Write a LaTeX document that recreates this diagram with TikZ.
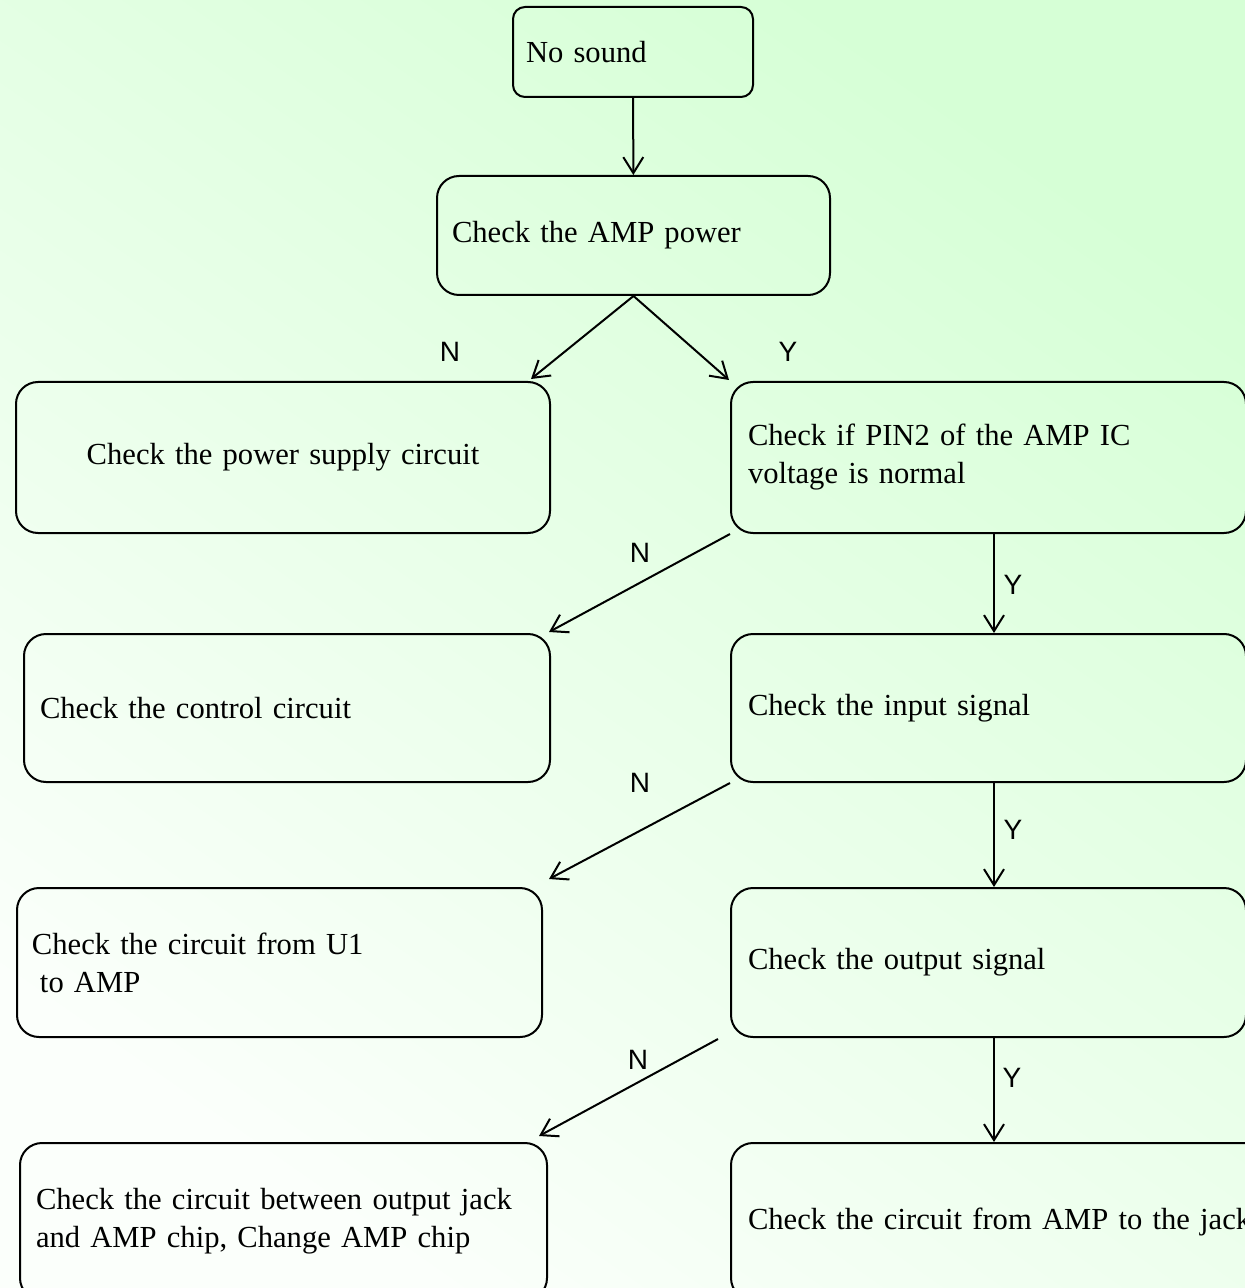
\documentclass[tikz,border=0pt]{standalone}
\usepackage{fontspec}
\setmainfont{Liberation Serif}
\newfontfamily\ynfont{Liberation Sans}
\usetikzlibrary{arrows.meta}
\definecolor{bgtop}{RGB}{214,255,214}
\definecolor{bgmid}{RGB}{243,255,243}
\definecolor{bgbottom}{RGB}{251,255,251}

\begin{document}
\begin{tikzpicture}[x=0.5pt,y=-0.5pt,line width=1pt,>={Straight Barb[length=8pt,width=10pt]},
  box/.style={draw,rounded corners=11pt,align=left,font=\fontsize{15.3}{19}\selectfont},
  answer/.style={inner sep=0pt,font=\ynfont\fontsize{14}{14}\selectfont}]
  \useasboundingbox (0,0) rectangle (1245,1288);
  \clip (0,0) rectangle (1245,1288);
  \shade[top color=bgtop,middle color=bgmid,bottom color=bgbottom,shading angle=-35] (0,0) rectangle (1245,1288);
  \node [box,rounded corners=6pt,inner xsep=6.5pt,text width=107pt,minimum height=45pt] (1) at (633,52) {No sound};
  \node [box,inner xsep=7.5pt,text width=181.5pt,minimum height=59.5pt] (2) at (633.5,235.5) {Check the AMP power};
  \node [box,align=center,inner xsep=7.5pt,text width=252pt,minimum height=75.5pt] (3) at (283,457.5) {Check the power supply circuit};
  \node [box,inner xsep=8.5pt,text width=240.5pt,minimum height=75.5pt] (4) at (988.5,457.5) {Check if PIN2 of the AMP IC\\voltage is normal};
  \node [box,inner xsep=8pt,text width=247pt,minimum height=74pt] (5) at (287,708) {Check the control circuit};
  \node [box,inner xsep=8.5pt,text width=240.5pt,minimum height=74pt] (6) at (988.5,708) {Check the input signal};
  \node [box,inner xsep=7.5pt,text width=247.5pt,minimum height=74.5pt] (7) at (279.5,962.5) {Check the circuit from U1\\\hspace*{4pt}to AMP};
  \node [box,inner xsep=8pt,text width=247.5pt,minimum height=78.5pt] (9) at (283.5,1221.5) {Check the circuit between output jack\\and AMP chip, Change AMP chip};
  \node [box,inner xsep=8.5pt,text width=240.5pt,minimum height=74.5pt] (8) at (988.5,962.5) {Check the output signal};
  \node [box,inner xsep=8.5pt,text width=273pt,minimum height=78.5pt] (10) at (1021,1221.5) {Check the circuit from AMP to the jack};
  \node [answer] (n1) at (450,352) {N};
  \node [answer] (y1) at (788,352) {Y};
  \node [answer] (n2) at (640,553) {N};
  \node [answer] (y2) at (1013,585) {Y};
  \node [answer] (n3) at (640,783) {N};
  \node [answer] (y3) at (1013,830) {Y};
  \node [answer] (n4) at (638,1060) {N};
  \node [answer] (y4) at (1012,1078) {Y};
  \draw[->] (1) -- (2);
  \draw[->] (2.south) -- ([shift={(-20,-2)}]3.north east);
  \draw[->] (2.south) -- ([shift={(-1,-1)}]4.north west);
  \draw[->] (4.south west) -- ([shift={(-2,-1)}]5.north east);
  \draw[->] ([xshift=2.75pt]4.south) -- ([xshift=2.75pt]6.north);
  \draw[->] (6.south west) -- ([shift={(6,-8)}]7.north east);
  \draw[->] ([xshift=2.75pt]6.south) -- ([xshift=2.75pt]8.north);
  \draw[->] ([shift={(-12,1)}]8.south west) -- ([shift={(-9,-6)}]9.north east);
  \draw[->] ([xshift=2.75pt]8.south) -- ([xshift=2.75pt]8.south |- 10.north);
\end{tikzpicture}
\end{document}
